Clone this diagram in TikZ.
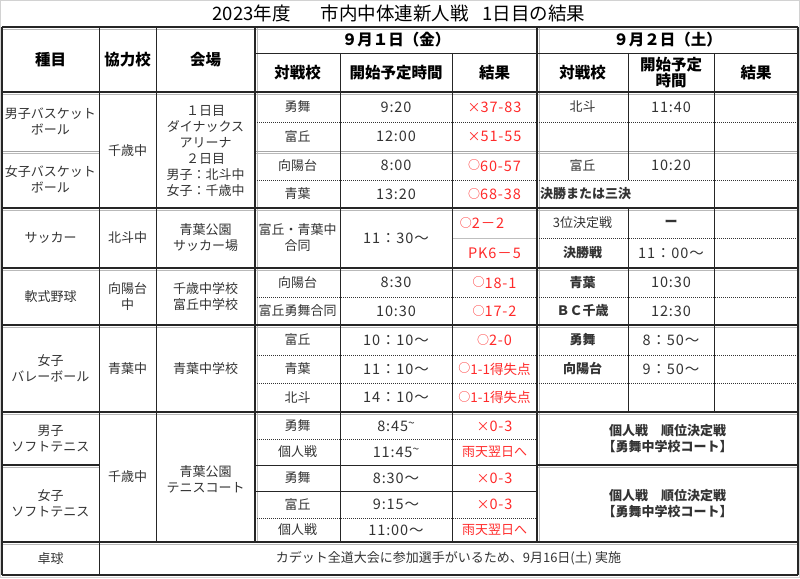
\documentclass[tikz,border=0pt]{standalone}
\usepackage{fontspec}
\setmainfont{Noto Sans CJK JP}
\definecolor{txtgray}{HTML}{333333}
\definecolor{resred}{HTML}{FF2A2A}
\newcommand\smtil{\raisebox{0.45ex}{\fontsize{12}{12}\selectfont\textasciitilde}}
\newcommand\maru{\raisebox{1.4pt}{\fontsize{12}{12}\selectfont ○}}
\newcommand\batsu{{\fontsize{13}{13}\selectfont ×}}
\tikzset{
  txt/.style={inner sep=0pt, text=txtgray, font=\fontsize{13}{16}\selectfont, align=center},
  num/.style={inner sep=0pt, text=txtgray, font=\fontsize{14.5}{16}\selectfont\addfontfeatures{LetterSpace=6}, align=center},
  res/.style={num, text=resred},
  resm/.style={inner sep=0pt, text=resred, font=\fontsize{13.5}{16}\selectfont},
  bld/.style={txt, font=\fontsize{13}{16}\selectfont\bfseries},
  hdr/.style={inner sep=0pt, text=black, font=\fontsize{15.5}{17}\selectfont\bfseries, align=center},
  gridl/.style={draw=black!85, line width=0.9pt},
  dotl/.style={draw=black!80, line width=0.7pt, dash pattern=on 1pt off 1pt},
  majg/.style={draw=gray!55, line width=1.1pt},
  majb/.style={draw=black!85, line width=1.1pt},
}
% major double lines: gray shadow beside the black line
\newcommand\mH[3]{\draw[majg] (#2,#1+2.2) -- (#3,#1+2.2);}
\newcommand\mV[3]{\draw[majg] (#1+2.2,#2) -- (#1+2.2,#3);}
\begin{document}
\begin{tikzpicture}[x=1pt,y=-1pt]
\useasboundingbox (0,0) rectangle (800,578);
\draw[gray!35, line width=1pt] (0.5,0.5) rectangle (799.5,577.5);

% ---------- gray shadows of major lines ----------
\mH{27}{2}{798}
\mH{92}{2}{798}
\mH{151}{2}{99}
\mH{151}{255}{798}
\mH{208}{2}{798}
\mH{268}{2}{798}
\mH{325}{2}{798}
\mH{412}{2}{798}
\mH{465}{2}{99}
\mH{465}{537}{798}
\mH{542}{2}{798}
\mV{255}{27}{542}
\mV{537}{27}{542}

% ---------- horizontal lines ----------
\draw[majb] (2,27) -- (798,27);
\draw[gridl] (255,53) -- (798,53);
\draw[majb] (2,92) -- (798,92);
\draw[dotl] (255,122) -- (798,122);
\draw[draw=gray!70, line width=0.9pt] (2,151) -- (99,151) (255,151) -- (798,151);
\draw[dotl] (255,180) -- (798,180);
\draw[majb] (2,208) -- (798,208);
\draw[draw=gray!50, line width=0.7pt] (452,238) -- (537,238);
\draw[dotl] (537,238) -- (798,238);
\draw[majb] (2,268) -- (798,268);
\draw[dotl] (255,297) -- (798,297);
\draw[majb] (2,325) -- (798,325);
\draw[dotl] (255,355) -- (798,355);
\draw[dotl] (255,383) -- (798,383);
\draw[majb] (2,412) -- (798,412);
\draw[dotl] (255,439) -- (537,439);
\draw[majb] (2,465) -- (99,465);
\draw[gridl] (255,465) -- (537,465);
\draw[majb] (537,465) -- (798,465);
\draw[gridl] (255,491) -- (537,491);
\draw[dotl] (255,518) -- (537,518);
\draw[majb] (2,542) -- (798,542);
\draw[majb] (2,575) -- (798,575);

% ---------- vertical lines ----------
\draw[majb] (2,27) -- (2,575);
\draw[majb] (798,27) -- (798,575);
\draw[gridl] (99,27) -- (99,575);
\draw[gridl] (156,27) -- (156,542);
\draw[majb] (255,27) -- (255,542);
\draw[gridl] (340,53) -- (340,542);
\draw[gridl] (452,53) -- (452,542);
\draw[majb] (537,27) -- (537,542);
\draw[gridl] (628,53) -- (628,180) (628,208) -- (628,412);
\draw[gridl] (714,53) -- (714,412);

% ---------- title ----------
\node[inner sep=0pt, text=black, font=\fontsize{18.5}{20}\selectfont] (title) at (399,13.5)
  {2023年度\hspace{30pt}市内中体連新人戦\hspace{14pt}1日目の結果};

% ---------- header ----------
\node[hdr] (hSport) at (50.5,59.5) {種目};
\node[hdr] (hCoop)  at (127.5,59.5) {協力校};
\node[hdr] (hVenue) at (205.5,59.5) {会場};
\node[hdr] (hDay1)  at (396,40) {９月１日（金）};
\node[hdr] (hDay2)  at (667.5,40) {９月２日（土）};
\node[hdr] (hOpp1)  at (297.5,72.5) {対戦校};
\node[hdr] (hTime1) at (396,72.5) {開始予定時間};
\node[hdr] (hRes1)  at (494.5,72.5) {結果};
\node[hdr] (hOpp2)  at (582.5,72.5) {対戦校};
\node[hdr, font=\fontsize{15.5}{16.5}\selectfont\bfseries] (hTime2) at (671,72.5) {開始予定\\時間};
\node[hdr] (hRes2)  at (756,72.5) {結果};

% ---------- column 1 : sports ----------
\node[txt] (sBbM) at (50.5,121.5) {男子バスケット\\ボール};
\node[txt] (sBbW) at (50.5,179.5) {女子バスケット\\ボール};
\node[txt] (sSoc) at (50.5,238) {サッカー};
\node[txt] (sBase) at (50.5,296.5) {軟式野球};
\node[txt] (sVb) at (50.5,368.5) {女子\\バレーボール};
\node[txt] (sTnM) at (50.5,438.5) {男子\\ソフトテニス};
\node[txt] (sTnW) at (50.5,503.5) {女子\\ソフトテニス};
\node[txt] (sTT) at (50.5,558.5) {卓球};

% ---------- column 2 : cooperating school ----------
\node[txt] (cBb) at (127.5,150.5) {千歳中};
\node[txt] (cSoc) at (127.5,238) {北斗中};
\node[txt] (cBase) at (127.5,296.5) {向陽台\\中};
\node[txt] (cVb) at (127.5,368.5) {青葉中};
\node[txt] (cTn) at (127.5,477) {千歳中};

% ---------- column 3 : venue ----------
\node[txt] (vBb) at (205.5,150.5) {１日目\\ダイナックス\\アリーナ\\２日目\\男子：北斗中\\女子：千歳中};
\node[txt] (vSoc) at (205.5,238) {青葉公園\\サッカー場};
\node[txt] (vBase) at (205.5,296.5) {千歳中学校\\富丘中学校};
\node[txt] (vVb) at (205.5,368.5) {青葉中学校};
\node[txt] (vTn) at (205.5,479) {青葉公園\\テニスコート};

% ---------- day 1 ----------
\node[txt] (o1a) at (297.5,107) {勇舞};
\node[num] (t1a) at (396,107) {9:20};
\node[res] (r1a) at (494.5,107) {\batsu37-83};
\node[txt] (o1b) at (297.5,136.5) {富丘};
\node[num] (t1b) at (396,136.5) {12:00};
\node[res] (r1b) at (494.5,136.5) {\batsu51-55};
\node[txt] (o1c) at (297.5,165.5) {向陽台};
\node[num] (t1c) at (396,165.5) {8:00};
\node[res] (r1c) at (494.5,165.5) {\maru60-57};
\node[txt] (o1d) at (297.5,194) {青葉};
\node[num] (t1d) at (396,194) {13:20};
\node[res] (r1d) at (494.5,194) {\maru68-38};

\node[txt] (o1e) at (297.5,238) {富丘・青葉中\\合同};
\node[num] (t1e) at (396,238) {11：30〜};
\node[res] (r1e) at (482,223) {\maru2－2};
\node[res] (r1f) at (494.5,253) {PK6－5};

\node[txt] (o1g) at (297.5,282.5) {向陽台};
\node[num] (t1g) at (396,282.5) {8:30};
\node[res] (r1g) at (494.5,282.5) {\maru18-1};
\node[txt] (o1h) at (297.5,311) {富丘勇舞合同};
\node[num] (t1h) at (396,311) {10:30};
\node[res] (r1h) at (494.5,311) {\maru17-2};

\node[txt] (o1i) at (297.5,340) {富丘};
\node[num] (t1i) at (396,340) {10：10〜};
\node[res] (r1i) at (494.5,340) {\maru2-0};
\node[txt] (o1j) at (297.5,369) {青葉};
\node[num] (t1j) at (396,369) {11：10〜};
\node[resm] (r1j) at (494.5,369) {\maru1-1得失点};
\node[txt] (o1k) at (297.5,397.5) {北斗};
\node[num] (t1k) at (396,397.5) {14：10〜};
\node[resm] (r1k) at (494.5,397.5) {\maru1-1得失点};

\node[txt] (o1l) at (297.5,426) {勇舞};
\node[num] (t1l) at (396,426) {8:45\smtil};
\node[res] (r1l) at (494.5,426) {\batsu0-3};
\node[txt] (o1m) at (297.5,452) {個人戦};
\node[num] (t1m) at (396,452) {11:45\smtil};
\node[res, font=\fontsize{13}{16}\selectfont] (r1m) at (494.5,452) {雨天翌日へ};

\node[txt] (o1n) at (297.5,478) {勇舞};
\node[num] (t1n) at (396,478) {8:30〜};
\node[res] (r1n) at (494.5,478) {\batsu0-3};
\node[txt] (o1o) at (297.5,504.5) {富丘};
\node[num] (t1o) at (396,504.5) {9:15〜};
\node[res] (r1o) at (494.5,504.5) {\batsu0-3};
\node[txt] (o1p) at (297.5,530) {個人戦};
\node[num] (t1p) at (396,530) {11:00〜};
\node[res, font=\fontsize{13}{16}\selectfont] (r1p) at (494.5,530) {雨天翌日へ};

% ---------- day 2 ----------
\node[txt] (o2a) at (582.5,107) {北斗};
\node[num] (t2a) at (671,107) {11:40};
\node[txt] (o2c) at (582.5,165.5) {富丘};
\node[num] (t2c) at (671,165.5) {10:20};
\node[bld, anchor=west] (o2d) at (540,194) {決勝または三決};

\node[txt] (o2e) at (582.5,223) {3位決定戦};
\node[bld] (t2e) at (671,223) {ー};
\node[bld] (o2f) at (582.5,253) {決勝戦};
\node[num] (t2f) at (671,253) {11：00〜};

\node[bld] (o2g) at (582.5,282.5) {青葉};
\node[num] (t2g) at (671,282.5) {10:30};
\node[bld] (o2h) at (582.5,311) {ＢＣ千歳};
\node[num] (t2h) at (671,311) {12:30};

\node[bld] (o2i) at (582.5,340) {勇舞};
\node[num] (t2i) at (671,340) {8：50〜};
\node[bld] (o2j) at (582.5,369) {向陽台};
\node[num] (t2j) at (671,369) {9：50〜};

\node[bld] (tnM2) at (667.5,438.5) {個人戦　順位決定戦\\【勇舞中学校コート】};
\node[bld] (tnW2) at (667.5,503.5) {個人戦　順位決定戦\\【勇舞中学校コート】};

% ---------- table tennis ----------
\node[txt] (ttNote) at (448.5,558.5) {カデット全道大会に参加選手がいるため、9月16日(土) 実施};
\end{tikzpicture}
\end{document}
